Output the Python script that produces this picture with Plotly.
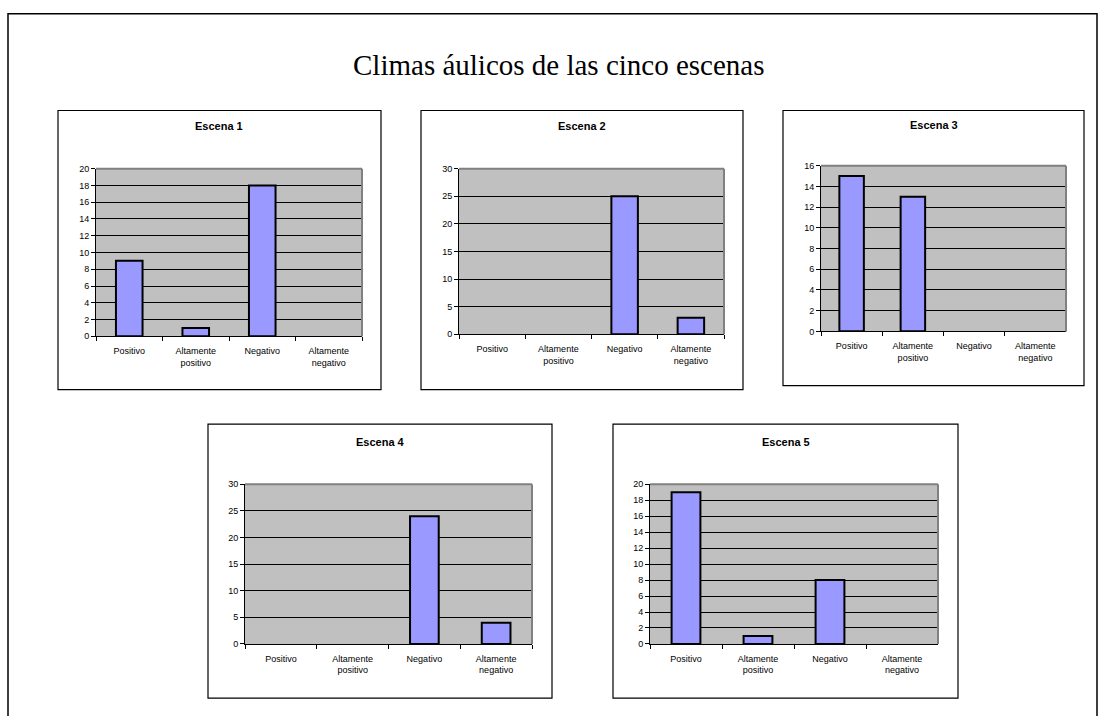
import plotly.graph_objects as go

# Category labels and counts per scene
categories = ["Positivo", "Altamente positivo", "Negativo", "Altamente negativo"]
tick_labels = ["Positivo", "Altamente<br>positivo", "Negativo", "Altamente<br>negativo"]

escena_1 = [9, 1, 18, 0]
escena_2 = [0, 0, 25, 3]
escena_3 = [15, 13, 0, 0]
escena_4 = [0, 0, 24, 4]
escena_5 = [19, 1, 8, 0]

scene_names = ["Escena 1", "Escena 2", "Escena 3", "Escena 4", "Escena 5"]
scene_values = [escena_1, escena_2, escena_3, escena_4, escena_5]
y_max = [20, 30, 16, 30, 20]
y_step = [2, 5, 2, 5, 2]

W, H = 1107, 716

# Pixel layout: plot area (l, t, r, b), card (l, t, r, b), title y
plot_boxes = [
    (96, 166, 362, 336),
    (459, 166, 724, 334),
    (821, 163, 1066, 331),
    (245, 486, 532, 648),
    (650, 486, 938, 648),
]
card_boxes = [
    (58, 107, 381, 390),
    (421, 107, 743, 390),
    (783, 107, 1084, 386),
    (208, 425, 552, 703),
    (613, 425, 958, 703),
]
title_y = [123, 123, 122, 443, 443]

BAR_FILL = "#9999FF"
PLOT_BG = "#C0C0C0"
FONT_SANS = "Liberation Sans, Arial, sans-serif"
FONT_SERIF = "Liberation Serif, Times New Roman, serif"


def px_x(v):
    return v / W


def px_y(v):
    return 1 - v / H


fig = go.Figure()
shapes = []
annotations = []

# outer page frame
shapes.append(dict(type="rect", xref="paper", yref="paper",
                   x0=px_x(8), x1=px_x(1097), y0=px_y(730), y1=px_y(9),
                   line=dict(color="black", width=1.5), fillcolor="white",
                   layer="below"))

for i, (name, vals) in enumerate(zip(scene_names, scene_values)):
    n = i + 1
    xa = "x" if n == 1 else f"x{n}"
    ya = "y" if n == 1 else f"y{n}"
    l, t, r, b = plot_boxes[i]
    cl, ct, cr, cb = card_boxes[i]

    # chart card
    shapes.append(dict(type="rect", xref="paper", yref="paper",
                       x0=px_x(cl), x1=px_x(cr), y0=px_y(cb), y1=px_y(ct),
                       line=dict(color="black", width=1.2), fillcolor="white",
                       layer="below"))
    # grey plot area, drawn under the gridlines
    shapes.append(dict(type="rect", xref=f"{xa} domain", yref=f"{ya} domain",
                       x0=0, x1=1, y0=0, y1=1, line=dict(width=0),
                       fillcolor=PLOT_BG, layer="below"))

    fig.add_trace(go.Bar(
        x=categories, y=vals, xaxis=xa, yaxis=ya, width=0.4,
        marker=dict(color=BAR_FILL,
                    line=dict(color="black",
                              width=[2 if v > 0 else 0 for v in vals])),
        showlegend=False, hoverinfo="x+y",
    ))

    xkey = "xaxis" if n == 1 else f"xaxis{n}"
    ykey = "yaxis" if n == 1 else f"yaxis{n}"
    fig.update_layout({
        xkey: dict(domain=[px_x(l), px_x(r)], anchor=ya,
                   categoryorder="array", categoryarray=categories,
                   tickmode="array", tickvals=categories, ticktext=tick_labels,
                   tickson="boundaries", ticks="outside", ticklen=4,
                   tickcolor="black", showline=True, linecolor="black",
                   linewidth=1, showgrid=False, zeroline=False,
                   ticklabelstandoff=6,
                   tickfont=dict(family=FONT_SANS, size=9, color="black"),
                   fixedrange=True),
        ykey: dict(domain=[px_y(b), px_y(t)], anchor=xa,
                   range=[0, y_max[i]], dtick=y_step[i], tick0=0,
                   ticks="outside", ticklen=4, tickcolor="black",
                   showline=True, linecolor="black", linewidth=1,
                   showgrid=True, gridcolor="black", gridwidth=1,
                   zeroline=False,
                   tickfont=dict(family=FONT_SANS, size=9, color="black"),
                   fixedrange=True),
    })

    # grey top and right edges of the plot area
    shapes.append(dict(type="line", xref=f"{xa} domain", yref=f"{ya} domain",
                       x0=0, x1=1, y0=1, y1=1,
                       line=dict(color="#808080", width=2)))
    shapes.append(dict(type="line", xref=f"{xa} domain", yref=f"{ya} domain",
                       x0=1, x1=1, y0=0, y1=1,
                       line=dict(color="#808080", width=2)))

    annotations.append(dict(text=f"<b>{name}</b>", xref="paper", yref="paper",
                            x=px_x((cl + cr) / 2), y=px_y(title_y[i]),
                            xanchor="center", yanchor="middle", showarrow=False,
                            font=dict(family=FONT_SANS, size=11, color="black")))

annotations.append(dict(text="Climas áulicos de las cinco escenas",
                        xref="paper", yref="paper", x=px_x(559), y=px_y(61),
                        xanchor="center", yanchor="middle", showarrow=False,
                        font=dict(family=FONT_SERIF, size=29, color="black")))

fig.update_layout(
    width=W, height=H, margin=dict(l=0, r=0, t=0, b=0),
    paper_bgcolor="white", plot_bgcolor=PLOT_BG,
    shapes=shapes, annotations=annotations, bargap=0.6,
)

fig.write_html("out.html")
